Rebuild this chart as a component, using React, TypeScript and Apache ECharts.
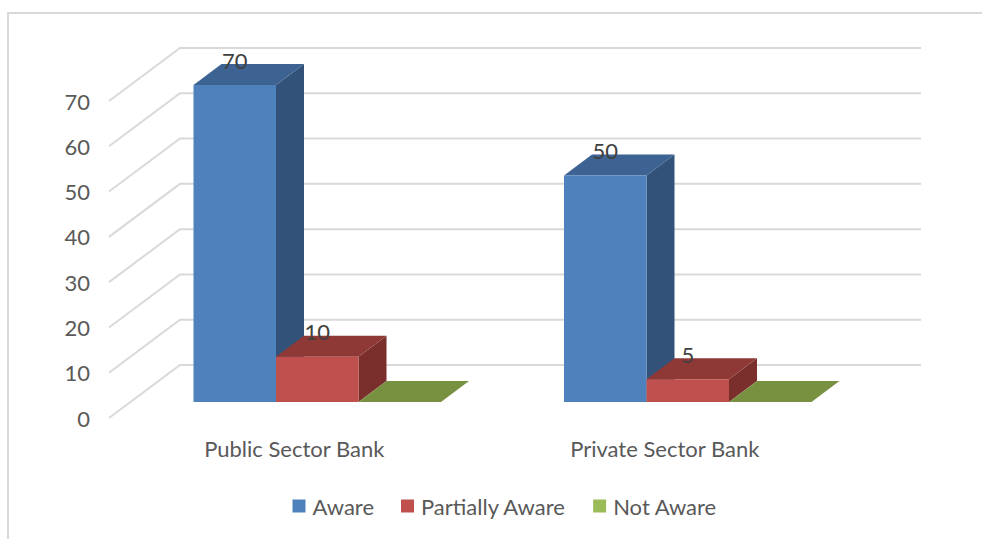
import React, { useEffect, useRef } from "react";
import * as echarts from "echarts";

const categories = ["Public Sector Bank", "Private Sector Bank"];
const aware = [70, 50];
const partiallyAware = [10, 5];
const notAware = [0, 0];
const yTicks = [0, 10, 20, 30, 40, 50, 60, 70];

// Oblique projection of the 3D plot box, in pixels.
const WALL_DX = 71;
const WALL_DY = -53;
const BAR_FRONT_DX = 23;
const BAR_FRONT_DY = -16;
const BAR_DEPTH_DX = 28;
const BAR_DEPTH_DY = -21;
const BAR_WIDTH = 82.5;

const FONT = "Lato, Carlito, sans-serif";
const FONT_SIZE = 22;

type Shade = { front: string; top: string; side: string };

const BLUE: Shade = { front: "#4F81BD", top: "#3C6392", side: "#32527A" };
const RED: Shade = { front: "#C0504D", top: "#8F3937", side: "#7A2F2D" };
const GREEN: Shade = { front: "#9BBB59", top: "#779140", side: "#66803A" };

const poly = (points: number[][], fill: string) => ({
  type: "polygon",
  shape: { points },
  style: { fill },
});

// One extruded column: side and top faces first, front face over them.
function barSeries(name: string, values: number[], shade: Shade, slot: number) {
  return {
    name,
    type: "custom",
    coordinateSystem: "cartesian2d",
    itemStyle: { color: shade.front },
    data: values.map((v, i) => [i, v]),
    z: 3 + slot,
    renderItem: (_params: any, api: any) => {
      const top = api.coord([api.value(0), api.value(1)]);
      const base = api.coord([api.value(0), 0]);
      const x0 = top[0] + BAR_FRONT_DX + (slot - 1.5) * BAR_WIDTH;
      const x1 = x0 + BAR_WIDTH;
      const yt = top[1] + BAR_FRONT_DY;
      const yb = base[1] + BAR_FRONT_DY;
      const dx = BAR_DEPTH_DX;
      const dy = BAR_DEPTH_DY;
      const children: any[] = [];
      if (yb > yt) {
        children.push(poly([[x1, yt], [x1 + dx, yt + dy], [x1 + dx, yb + dy], [x1, yb]], shade.side));
      }
      children.push(poly([[x0, yt], [x0 + dx, yt + dy], [x1 + dx, yt + dy], [x1, yt]], shade.top));
      if (yb > yt) {
        children.push({ type: "rect", shape: { x: x0, y: yt, width: BAR_WIDTH, height: yb - yt }, style: { fill: shade.front } });
      }
      if (api.value(1) > 0) {
        children.push({
          type: "text",
          x: (x0 + x1) / 2,
          y: yt - 25,
          z2: 50,
          style: {
            text: String(api.value(1)),
            fill: "#404040",
            font: `${FONT_SIZE}px ${FONT}`,
            align: "center",
            verticalAlign: "middle",
          },
        });
      }
      return { type: "group", children };
    },
  };
}

// Side and back wall gridlines for each value tick.
const wallSeries = {
  type: "custom",
  coordinateSystem: "cartesian2d",
  silent: true,
  z: 1,
  data: yTicks.map((v) => [0, v]),
  renderItem: (params: any, api: any) => {
    const y = api.coord([0, api.value(1)])[1];
    const left = params.coordSys.x;
    const right = left + params.coordSys.width;
    const lineStyle = { stroke: "#D9D9D9", lineWidth: 2, fill: "none" };
    return {
      type: "polyline",
      shape: {
        points: [
          [left, y],
          [left + WALL_DX, y + WALL_DY],
          [right + WALL_DX, y + WALL_DY],
        ],
      },
      style: lineStyle,
    };
  },
};

export default function App() {
  const ref = useRef<HTMLDivElement>(null);

  useEffect(() => {
    document.body.style.margin = "0";
    const chart = echarts.init(ref.current!, undefined, { renderer: "svg" });
    chart.setOption({
      animation: false,
      backgroundColor: "#FFFFFF",
      textStyle: { fontFamily: FONT },
      grid: { left: 109, top: 101, width: 741, height: 317 },
      xAxis: {
        type: "category",
        data: categories,
        axisLine: { show: false },
        axisTick: { show: false },
        axisLabel: { color: "#595959", fontSize: FONT_SIZE, fontFamily: FONT, margin: 19 },
      },
      yAxis: {
        type: "value",
        min: 0,
        max: 70,
        interval: 10,
        axisLine: { show: false },
        axisTick: { show: false },
        splitLine: { show: false },
        axisLabel: { color: "#595959", fontSize: FONT_SIZE, fontFamily: FONT, margin: 19 },
      },
      legend: {
        left: 287.5,
        top: 490,
        itemWidth: 13,
        itemHeight: 13,
        itemGap: 27,
        icon: "rect",
        selectedMode: false,
        textStyle: { color: "#595959", fontSize: FONT_SIZE, fontFamily: FONT, padding: [0, 0, 0, 2] },
        data: ["Aware", "Partially Aware", "Not Aware"],
      },
      graphic: [
        {
          type: "polyline",
          silent: true,
          shape: { points: [[8, 539], [8, 13], [982, 13]] },
          style: { stroke: "#D9D9D9", lineWidth: 2, fill: "none" },
        },
      ],
      series: [
        wallSeries,
        barSeries("Aware", aware, BLUE, 0),
        barSeries("Partially Aware", partiallyAware, RED, 1),
        barSeries("Not Aware", notAware, GREEN, 2),
      ],
    });
    return () => chart.dispose();
  }, []);

  return <div ref={ref} style={{ width: 982, height: 539 }} />;
}
